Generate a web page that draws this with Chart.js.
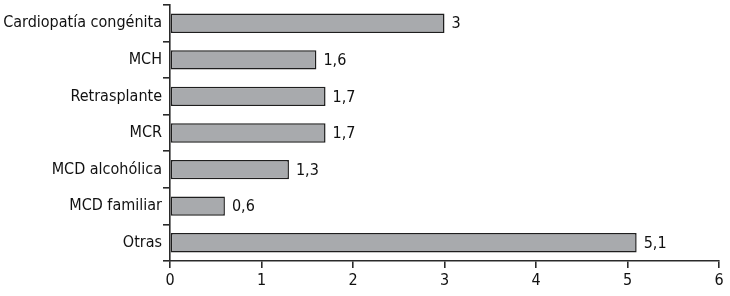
<!DOCTYPE html>
<html><head><meta charset="utf-8">
<script src="https://cdn.jsdelivr.net/npm/chart.js@4/dist/chart.umd.min.js"></script>
<style>html,body{margin:0;padding:0;background:#fff}#wrap{width:730px;height:296px}</style>
</head><body><div id="wrap"><canvas id="c"></canvas></div>
<script>
const categories = ["Cardiopatía congénita","MCH","Retrasplante","MCR","MCD alcohólica","MCD familiar","Otras"];
const values = [3,1.6,1.7,1.7,1.3,0.6,5.1];
const xTicks = [0,1,2,3,4,5,6];

const FONT = "'DejaVu Sans Condensed', 'Liberation Sans Narrow', Roboto, sans-serif";
const fmt = v => String(v).replace('.', ',');

const labelPlugin = {
  id: 'valueLabels',
  afterDatasetsDraw(chart) {
    const ctx = chart.ctx;
    const meta = chart.getDatasetMeta(0);
    ctx.save();
    ctx.font = "16px " + FONT;
    ctx.fillStyle = '#111';
    ctx.textAlign = 'left';
    ctx.textBaseline = 'middle';
    meta.data.forEach((bar, i) => {
      ctx.fillText(fmt(values[i]), bar.x + 7, bar.y + 1);
    });
    ctx.restore();
  }
};

new Chart(document.getElementById('c'), {
  type: 'bar',
  data: {
    labels: categories,
    datasets: [{
      data: values,
      backgroundColor: '#a8aaad',
      borderColor: '#1e1e1e',
      borderWidth: 1.5,
      borderSkipped: false,
      categoryPercentage: 1,
      barPercentage: 0.53
    }]
  },
  options: {
    indexAxis: 'y',
    responsive: true,
    maintainAspectRatio: false,
    animation: false,
    layout: { padding: { top: 5, right: 11, left: 0, bottom: 0 } },
    plugins: { legend: { display: false }, tooltip: { enabled: false } },
    scales: {
      x: {
        min: 0, max: 6,
        afterBuildTicks(s) { s.ticks = xTicks.map(v => ({ value: v })); },
        afterFit(s) { s.height = 35; },
        border: { color: '#2a2a2a', width: 1.6 },
        grid: { drawOnChartArea: false, drawTicks: true, tickLength: 7, color: '#2a2a2a', lineWidth: 1.6 },
        ticks: { color: '#111', font: { family: FONT, size: 16 }, padding: 3 }
      },
      y: {
        afterFit(s) { s.width = 170; s.paddingTop = 0; s.paddingBottom = 0; },
        border: { color: '#2a2a2a', width: 1.6 },
        grid: { offset: true, drawOnChartArea: false, drawTicks: true, tickLength: 7, color: '#2a2a2a', lineWidth: 1.6 },
        ticks: { color: '#111', font: { family: FONT, size: 16 }, padding: 1 }
      }
    }
  },
  plugins: [labelPlugin]
});
</script></body></html>
